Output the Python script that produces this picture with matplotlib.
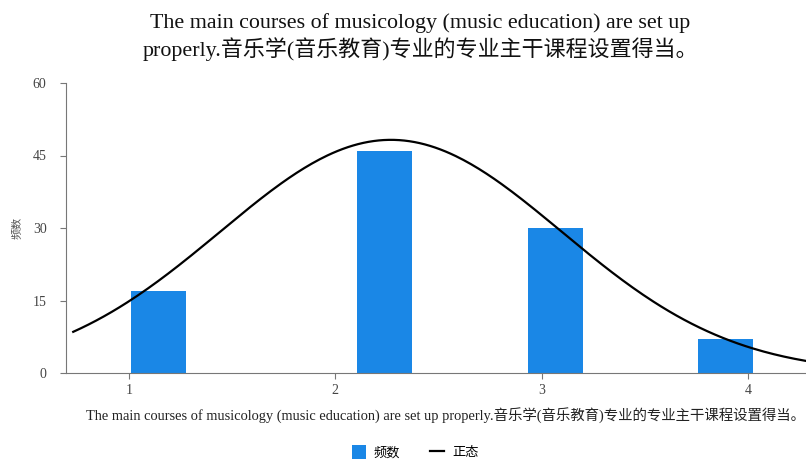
import numpy as np
import matplotlib.pyplot as plt

plt.rcParams['font.family'] = ['Liberation Serif', 'Noto Sans CJK SC']

# histogram bins (left edge of each bar) and counts
bin_left = [1.01, 2.105, 2.934, 3.758]
bin_width = 0.266
counts = [17, 46, 30, 7]
values = [1, 2, 3, 4]

title = ('The main courses of musicology (music education) are set up\n'
         'properly.音乐学(音乐教育)专业的专业主干课程设置得当。')
xlabel = 'The main courses of musicology (music education) are set up properly.音乐学(音乐教育)专业的专业主干课程设置得当。'

# normal curve fitted to the responses
n = sum(counts)
mean = np.sum(np.array(values) * counts) / n
sd = np.sqrt(np.sum(counts * (np.array(values) - mean) ** 2) / (n - 1))
xs = np.linspace(0.73, 4.45, 300)
ys = n * np.exp(-0.5 * ((xs - mean) / sd) ** 2) / (sd * np.sqrt(2 * np.pi))

fig = plt.figure(figsize=(8.06, 4.59), dpi=100)
ax = fig.add_axes([66 / 806, 1 - 373 / 459, 760 / 806, 290 / 459])

bars = ax.bar(bin_left, counts, width=bin_width, align='edge', color='#1a87e6', zorder=2)
line, = ax.plot(xs, ys, color='black', lw=1.6, zorder=3)

ax.set_xlim(0.695, 0.695 + 760 / 206.3)
ax.set_ylim(0, 60)
ax.set_xticks(values)
ax.set_yticks([0, 15, 30, 45, 60])
for s in ['top', 'right']:
    ax.spines[s].set_visible(False)
for s in ['left', 'bottom']:
    ax.spines[s].set_color('#777777')
ax.tick_params(colors='#777777', labelcolor='#444444', labelsize=10, length=4)
ax.tick_params(axis='x', pad=4)
ax.tick_params(axis='y', pad=10)

ax.set_ylabel('频数', fontsize=8, color='#555555', labelpad=8)
ax.set_xlabel(xlabel, fontsize=10.4, color='#222222', labelpad=7)
fig.text(420 / 806, 1 - 37 / 459, title, ha='center', va='center', fontsize=15.8,
         color='#111111', linespacing=1.2)

fig.legend([bars, line], ['频数', '正态'], loc='center', bbox_to_anchor=(415 / 806, 1 - 452 / 459),
           ncol=2, frameon=False, fontsize=9.5, handlelength=1.1, handleheight=1.3,
           columnspacing=2.2, handletextpad=0.6)

plt.savefig('out.png', dpi=100)
